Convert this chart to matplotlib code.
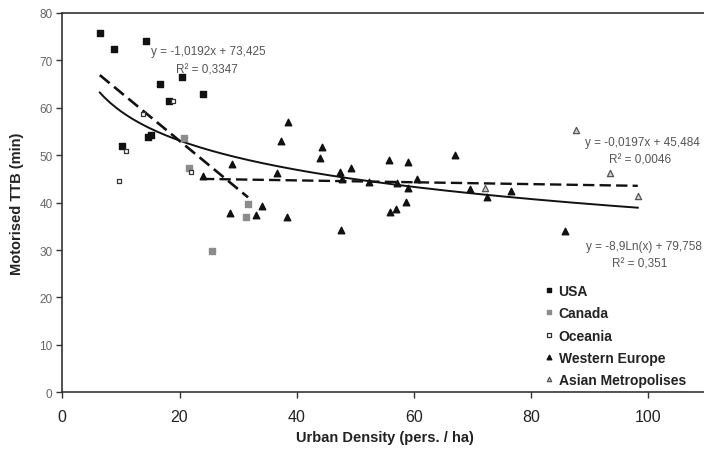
import matplotlib.pyplot as plt
import numpy as np

plt.rcParams["font.family"] = ["Liberation Sans", "DejaVu Sans"]

# data
usa_x = [6.4, 8.9, 14.3, 16.7, 20.5, 18.2, 24.0, 14.6, 15.1, 10.2]
usa_y = [75.7, 72.5, 74.1, 65.1, 66.6, 61.5, 62.9, 53.8, 54.3, 52.0]

canada_x = [20.8, 21.6, 31.7, 31.3, 25.5]
canada_y = [53.7, 47.3, 39.7, 37.0, 29.7]

oceania_x = [18.9, 10.9, 9.6, 22.0, 13.7]
oceania_y = [61.5, 50.8, 44.6, 46.5, 58.7]

weur_x = [24.0, 29.0, 36.6, 37.3, 38.5, 44.3, 43.9, 47.4, 49.2, 47.7,
          52.3, 55.7, 57.1, 55.9, 57.0, 28.6, 33.1, 34.1, 38.3, 47.6,
          59.0, 67.0, 60.6, 59.0, 58.7, 69.5, 72.4, 76.6, 85.8]
weur_y = [45.6, 48.2, 46.2, 53.0, 57.0, 51.8, 49.5, 46.5, 47.3, 45.0,
          44.3, 48.9, 44.2, 38.0, 38.7, 37.9, 37.3, 39.3, 37.0, 34.2,
          48.5, 50.1, 44.9, 43.0, 40.2, 42.9, 41.1, 42.4, 34.0]

asia_x = [72.2, 87.7, 93.5, 98.2]
asia_y = [43.0, 55.4, 46.3, 41.4]

# fitted trend lines as printed on the chart
fit_new_world = (-1.0192, 73.425, 0.3347)
fit_eur_asia = (-0.0197, 45.484, 0.0046)
fit_log_all = (-8.9, 79.758, 0.351)

x_ticks = [0, 20, 40, 60, 80, 100]
y_ticks = [0, 10, 20, 30, 40, 50, 60, 70, 80]

fig = plt.figure(figsize=(7.04, 4.56), dpi=100)
ax = fig.add_axes([62.3 / 704, 1 - 393.3 / 456, 1 - 62.3 / 704, (393.3 - 14) / 456])

ax.scatter(usa_x, usa_y, marker="s", s=13, color="#111111", label="USA", zorder=3)
ax.scatter(canada_x, canada_y, marker="s", s=13, color="#8c8c8c", label="Canada", zorder=3)
ax.scatter(oceania_x, oceania_y, marker="s", s=12, facecolor="white",
           edgecolor="#333333", linewidths=0.9, label="Oceania", zorder=3)
ax.scatter(weur_x, weur_y, marker="^", s=22, color="#111111", label="Western Europe", zorder=3)
ax.scatter(asia_x, asia_y, marker="^", s=20, facecolor="#d0d0d0",
           edgecolor="#555555", linewidths=0.9, label="Asian Metropolises", zorder=3)

# trend lines
nw_x = np.array(usa_x + canada_x + oceania_x)
xs = np.linspace(nw_x.min(), nw_x.max(), 50)
ax.plot(xs, fit_new_world[0] * xs + fit_new_world[1], color="#111111",
        lw=1.9, linestyle=(0, (4.8, 2.2)), zorder=2)

ea_x = np.array(weur_x + asia_x)
xs = np.linspace(ea_x.min(), ea_x.max(), 50)
ax.plot(xs, fit_eur_asia[0] * xs + fit_eur_asia[1], color="#111111",
        lw=1.7, linestyle=(0, (4.8, 2.2)), zorder=2)

all_x = np.concatenate([nw_x, ea_x])
xs = np.linspace(all_x.min(), all_x.max(), 200)
ax.plot(xs, fit_log_all[0] * np.log(xs) + fit_log_all[1], color="#111111", lw=1.4, zorder=2)

eq_kw = dict(fontsize=8.5, color="#555555", ha="center", va="center")
ax.text(24.9, 72.0, "y = -1,0192x + 73,425", **eq_kw)
ax.text(24.7, 68.0, "R² = 0,3347", **eq_kw)
ax.text(99.0, 52.8, "y = -0,0197x + 45,484", **eq_kw)
ax.text(98.6, 49.2, "R² = 0,0046", **eq_kw)
ax.text(99.2, 30.9, "y = -8,9Ln(x) + 79,758", **eq_kw)
ax.text(98.6, 27.1, "R² = 0,351", **eq_kw)

ax.set_xlim(0, 109.5)
ax.set_ylim(0, 80)
ax.set_xticks(x_ticks)
ax.set_yticks(y_ticks)
ax.tick_params(axis="x", direction="out", length=4, width=1, color="#333333",
               labelsize=11.5, labelcolor="#222222", pad=8)
ax.tick_params(axis="y", direction="out", length=4, width=1, color="#333333",
               labelsize=8.5, labelcolor="#666666", pad=3)

for side in ["left", "bottom", "top"]:
    ax.spines[side].set_color("#333333")
    ax.spines[side].set_linewidth(1.2)
ax.spines["right"].set_visible(False)

fig.text(385 / 704, 1 - 438 / 456, "Urban Density (pers. / ha)", fontsize=10.5,
         fontweight="bold", color="#222222", ha="center", va="center")
fig.text(17 / 704, 1 - 203.6 / 456, "Motorised TTB (min)", fontsize=10.5,
         fontweight="bold", color="#222222", ha="center", va="center", rotation=90)

leg = ax.legend(loc="upper left", bbox_to_anchor=(0.7538, 0.2855), frameon=False,
                borderaxespad=0, borderpad=0, handlelength=0.5, handletextpad=0.4,
                labelspacing=0.6, markerscale=0.7, scatteryoffsets=[0.5],
                prop={"size": 10, "weight": "bold"})
for t in leg.get_texts():
    t.set_color("#222222")

fig.savefig("out.png", dpi=100)
